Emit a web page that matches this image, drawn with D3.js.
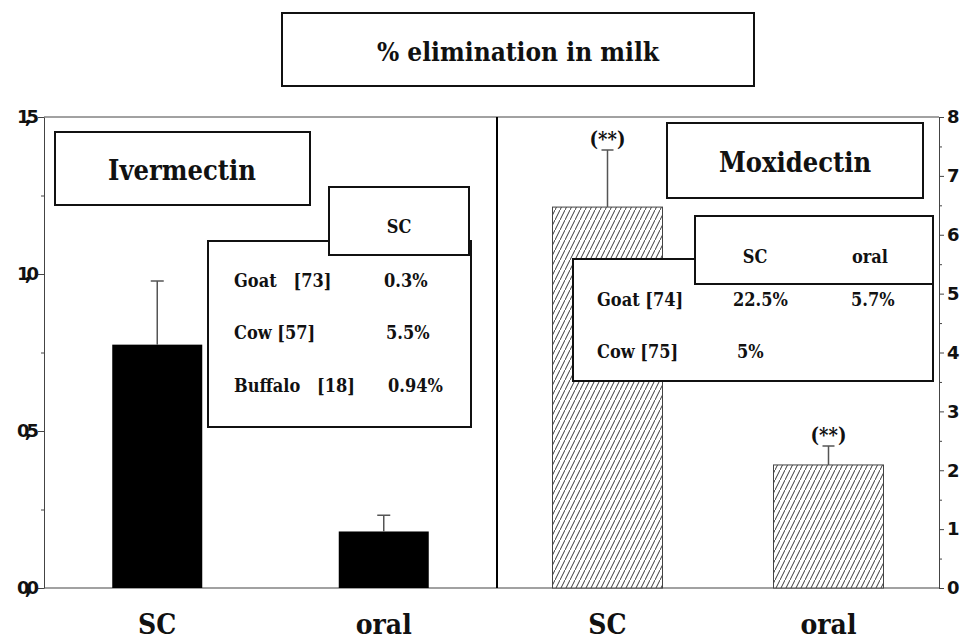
<!DOCTYPE html>
<html>
<head>
<meta charset="utf-8">
<script src="https://cdn.jsdelivr.net/npm/d3@7"></script>
<style>
  body { margin: 0; background: #fff; }
  svg text { white-space: pre; }
</style>
</head>
<body>
<svg id="chart" width="963" height="641"></svg>
<script>
// ---- data ----
var routes = ['SC', 'oral'];
var ivermectinValues = [0.775, 0.18];    // left axis
var ivermectinErrors = [0.203, 0.052];
var moxidectinValues = [6.47, 2.09];      // right axis
var moxidectinErrors = [0.97, 0.32];
var moxidectinMarks = ['(**)', '(**)'];
var leftTicks = [0, 0.5, 1, 1.5];
var leftMinor = [0.25, 0.75, 1.25];
var rightTicks = [0, 1, 2, 3, 4, 5, 6, 7, 8];
var rightMinor = [0.5, 1.5, 2.5, 3.5, 4.5, 5.5, 6.5, 7.5];
var titleText = '% elimination in milk';
var ivTableHead = ['SC'];
var ivTableRows = [['Goat   [73]', '0.3%'], ['Cow [57]', '5.5%'], ['Buffalo   [18]', '0.94%']];
var moxTableHead = ['SC', 'oral'];
var moxTableRows = [['Goat [74]', '22.5%', '5.7%'], ['Cow [75]', '5%', '']];

var SERIF = "'DejaVu Serif Condensed', 'DejaVu Serif', serif";
var SANS = "'DejaVu Sans', 'Liberation Sans', sans-serif";

var svg = d3.select('#chart');
var x0 = 44, xMid = 497, x1 = 939, yTop = 117, yBot = 588;

var yLeft = d3.scaleLinear().domain([0, 1.5]).range([yBot, yTop]);
var yRight = d3.scaleLinear().domain([0, 8]).range([yBot, yTop]);
var xLeft = d3.scalePoint().domain(routes).range([x0, xMid]).padding(0.5);
var xRight = d3.scalePoint().domain(routes).range([xMid, x1]).padding(0.5);

// hatch pattern
var defs = svg.append('defs');
var pat = defs.append('pattern')
  .attr('id', 'hatch')
  .attr('patternUnits', 'userSpaceOnUse')
  .attr('width', 5).attr('height', 10);
pat.append('rect').attr('width', 5).attr('height', 10).attr('fill', '#fff');
pat.append('path').attr('d', 'M-1,12 L6,-2').attr('stroke', '#222').attr('stroke-width', 0.9);

// frame lines
svg.append('line').attr('x1', x0).attr('x2', x1).attr('y1', yTop).attr('y2', yTop)
   .attr('stroke', '#444').attr('stroke-width', 1);
svg.append('line').attr('x1', x0).attr('x2', x1).attr('y1', yBot).attr('y2', yBot)
   .attr('stroke', '#444').attr('stroke-width', 1.2);
svg.append('line').attr('x1', xMid).attr('x2', xMid).attr('y1', yTop).attr('y2', yBot)
   .attr('stroke', '#000').attr('stroke-width', 2);

// bars - ivermectin
var ivW = 90;
svg.selectAll('.ivbar').data(routes).enter().append('rect')
  .attr('class', 'ivbar')
  .attr('x', function(d) { return xLeft(d) - ivW / 2; })
  .attr('y', function(d, i) { return yLeft(ivermectinValues[i]); })
  .attr('width', ivW)
  .attr('height', function(d, i) { return yBot - yLeft(ivermectinValues[i]); })
  .attr('fill', '#000');

svg.selectAll('.iverr').data(routes).enter().append('path')
  .attr('class', 'iverr')
  .attr('d', function(d, i) {
    var cx = xLeft(d), yb = yLeft(ivermectinValues[i]), ye = yLeft(ivermectinValues[i] + ivermectinErrors[i]);
    return 'M' + cx + ',' + yb + 'V' + ye + 'M' + (cx - 6.5) + ',' + ye + 'H' + (cx + 6.5);
  })
  .attr('stroke', '#555').attr('stroke-width', 1.5).attr('fill', 'none');

// bars - moxidectin
var moxW = 110;
svg.selectAll('.moxbar').data(routes).enter().append('rect')
  .attr('class', 'moxbar')
  .attr('x', function(d) { return xRight(d) - moxW / 2; })
  .attr('y', function(d, i) { return yRight(moxidectinValues[i]); })
  .attr('width', moxW)
  .attr('height', function(d, i) { return yBot - yRight(moxidectinValues[i]); })
  .attr('fill', 'url(#hatch)')
  .attr('stroke', '#444').attr('stroke-width', 1);

svg.selectAll('.moxerr').data(routes).enter().append('path')
  .attr('class', 'moxerr')
  .attr('d', function(d, i) {
    var cx = xRight(d), yb = yRight(moxidectinValues[i]), ye = yRight(moxidectinValues[i] + moxidectinErrors[i]);
    return 'M' + cx + ',' + yb + 'V' + ye + 'M' + (cx - 6) + ',' + ye + 'H' + (cx + 6);
  })
  .attr('stroke', '#555').attr('stroke-width', 1.5).attr('fill', 'none');

function label(x, y, s, size, anchor) {
  return svg.append('text').attr('x', x).attr('y', y)
    .attr('text-anchor', anchor || 'start')
    .attr('font-family', SERIF).attr('font-weight', 'bold')
    .attr('font-size', size).attr('fill', '#111')
    .text(s);
}

routes.forEach(function(d, i) {
  label(xRight(d), yRight(moxidectinValues[i] + moxidectinErrors[i]) - 4, moxidectinMarks[i], 20, 'middle');
});

// axes
var leftAxis = d3.axisLeft(yLeft).tickValues(leftTicks).tickSize(6).tickSizeOuter(0).tickPadding(4)
  .tickFormat(function(d) { return d3.format('.1f')(d).replace('.', ','); });
var gl = svg.append('g').attr('transform', 'translate(' + x0 + ',0)').call(leftAxis);
svg.append('g').attr('transform', 'translate(' + x0 + ',0)')
  .call(d3.axisLeft(yLeft).tickValues(leftMinor).tickSize(3).tickFormat(''))
  .select('.domain').remove();

var rightAxis = d3.axisRight(yRight).tickValues(rightTicks).tickSize(5).tickSizeOuter(0).tickPadding(3)
  .tickFormat(d3.format('d'));
svg.append('g').attr('transform', 'translate(' + x1 + ',0)').call(rightAxis);
svg.append('g').attr('transform', 'translate(' + x1 + ',0)')
  .call(d3.axisRight(yRight).tickValues(rightMinor).tickSize(3).tickFormat(''))
  .select('.domain').remove();
svg.selectAll('.domain, .tick line').attr('stroke', '#444');
svg.selectAll('.tick text')
  .attr('font-family', SANS).attr('font-weight', 'bold').attr('font-size', 18).attr('fill', '#111');
gl.selectAll('.tick text').attr('letter-spacing', -5);

// category labels
routes.forEach(function(d) {
  label(xLeft(d), 634, d, 28, 'middle');
  label(xRight(d), 634, d, 28, 'middle');
});

// boxes
function box(x, y, w, h) {
  svg.append('rect').attr('x', x).attr('y', y).attr('width', w).attr('height', h)
    .attr('fill', '#fff').attr('stroke', '#111').attr('stroke-width', 2);
}

box(282, 13, 472, 73);
label(518, 61, titleText, 26, 'middle');

box(55, 132, 255, 73);
label(182, 180, 'Ivermectin', 27, 'middle');

box(208, 241, 263, 186);
box(329, 187, 140, 68);
label(399, 233, ivTableHead[0], 18, 'middle');
var ivRowY = [287, 339, 392];
var ivValX = [384, 386, 388];
ivTableRows.forEach(function(r, i) {
  label(234, ivRowY[i], r[0], 18);
  label(ivValX[i], ivRowY[i], r[1], 18);
});

box(667, 123, 256, 75);
label(795, 172, 'Moxidectin', 27, 'middle');

box(573, 259, 360, 122);
box(695, 216, 238, 68);
var moxHeadX = [755, 870];
moxTableHead.forEach(function(h, i) { label(moxHeadX[i], 263, h, 18, 'middle'); });
var moxRowY = [306, 358];
moxTableRows.forEach(function(r, i) {
  label(597, moxRowY[i], r[0], 18);
  label(i === 0 ? 733 : 737, moxRowY[i], r[1], 18);
  if (r[2]) label(851, moxRowY[i], r[2], 18);
});
</script>
</body>
</html>
